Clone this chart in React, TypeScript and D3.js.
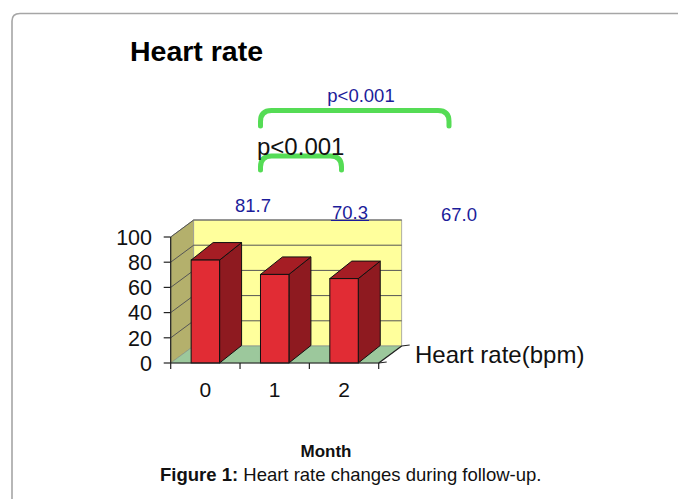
import React, { useEffect, useRef } from "react";
import * as d3 from "d3";

const months = ["0", "1", "2"];
const heartRate = [81.7, 70.3, 67.0];
const valueLabels = ["81.7", "70.3", "67.0"];
const yTicks = [0, 20, 40, 60, 80, 100];

const FONT = "'Liberation Sans', Arial, Helvetica, sans-serif";

const App: React.FC = () => {
  const svgRef = useRef<SVGSVGElement | null>(null);

  useEffect(() => {
    const svg = d3.select(svgRef.current);
    svg.selectAll("*").remove();

    const width = 678;
    const height = 499;
    svg.attr("width", width).attr("height", height);

    // frame of the figure box
    svg
      .append("path")
      .attr("d", `M12,${height + 5} V21 Q12,13.5 20,13.5 H${width + 5}`)
      .attr("fill", "none")
      .attr("stroke", "#a6a6a6")
      .attr("stroke-width", 1.6);

    // title
    svg
      .append("text")
      .attr("x", 130)
      .attr("y", 61)
      .attr("font-family", FONT)
      .attr("font-weight", "bold")
      .attr("font-size", 28.5)
      .text("Heart rate");

    const x0 = 170.7;
    const x1 = 378.7;
    const dx = 23;
    const dy = -17;

    const xScale = d3.scaleBand<string>().domain(months).range([x0, x1]).padding(0);
    const yScale = d3.scaleLinear().domain([0, 100]).range([363, 237]);
    const y0 = yScale(0);
    const yTop = yScale(100);

    const g = svg.append("g");

    // left side wall
    g.append("path")
      .attr("d", `M${x0},${y0} L${x0},${yTop} L${x0 + dx},${yTop + dy} L${x0 + dx},${y0 + dy} Z`)
      .attr("fill", "#b4b06c")
      .attr("stroke", "#8a8a6a")
      .attr("stroke-width", 0.8);

    // back wall
    g.append("rect")
      .attr("x", x0 + dx)
      .attr("y", yTop + dy)
      .attr("width", x1 - x0)
      .attr("height", y0 - yTop)
      .attr("fill", "#ffff9c")
      .attr("stroke", "#9a9a9a")
      .attr("stroke-width", 0.8);

    // floor
    g.append("path")
      .attr("d", `M${x0},${y0} L${x1},${y0} L${x1 + dx},${y0 + dy} L${x0 + dx},${y0 + dy} Z`)
      .attr("fill", "#9cc89c")
      .attr("stroke", "#8a9a8a")
      .attr("stroke-width", 0.8);

    // grid lines
    yTicks.slice(1).forEach((t) => {
      const y = yScale(t);
      g.append("path")
        .attr("d", `M${x0},${y} L${x0 + dx},${y + dy} H${x1 + dx}`)
        .attr("fill", "none")
        .attr("stroke", "#555")
        .attr("stroke-width", 1);
    });

    // 3D bars
    const bw = xScale.bandwidth();
    const barW = bw * 0.41;
    const bars = g
      .selectAll("g.bar")
      .data(months.map((m, i) => ({ m, v: heartRate[i] })))
      .join("g")
      .attr("class", "bar");

    bars.each(function (d) {
      const sel = d3.select(this);
      const bx0 = xScale(d.m)! + (bw - barW) / 2;
      const bx1 = bx0 + barW;
      const yv = yScale(d.v);
      const dDx = 22;
      const dDy = -17.5;
      sel
        .append("path")
        .attr("d", `M${bx1},${yv} L${bx1 + dDx},${yv + dDy} L${bx1 + dDx},${y0 + dDy} L${bx1},${y0} Z`)
        .attr("fill", "#8e1a20")
        .attr("stroke", "#111")
        .attr("stroke-width", 1);
      sel
        .append("path")
        .attr("d", `M${bx0},${yv} L${bx0 + dDx},${yv + dDy} L${bx1 + dDx},${yv + dDy} L${bx1},${yv} Z`)
        .attr("fill", "#a51d24")
        .attr("stroke", "#111")
        .attr("stroke-width", 1);
      sel
        .append("rect")
        .attr("x", bx0)
        .attr("y", yv)
        .attr("width", barW)
        .attr("height", y0 - yv)
        .attr("fill", "#e12c34")
        .attr("stroke", "#111")
        .attr("stroke-width", 1);
    });

    // y axis
    const yAxis = g.append("g");
    yAxis
      .append("line")
      .attr("x1", x0)
      .attr("x2", x0)
      .attr("y1", y0)
      .attr("y2", yTop)
      .attr("stroke", "#222")
      .attr("stroke-width", 1.2);
    yTicks.forEach((t) => {
      yAxis
        .append("line")
        .attr("x1", x0 - 7)
        .attr("x2", x0)
        .attr("y1", yScale(t))
        .attr("y2", yScale(t))
        .attr("stroke", "#222")
        .attr("stroke-width", 1.2);
      yAxis
        .append("text")
        .attr("x", 152)
        .attr("y", yScale(t))
        .attr("dy", "0.36em")
        .attr("text-anchor", "end")
        .attr("font-family", FONT)
        .attr("font-size", 21.5)
        .attr("fill", "#111")
        .text(String(t));
    });

    // x axis
    const xAxis = g.append("g");
    xAxis
      .append("line")
      .attr("x1", x0)
      .attr("x2", x1)
      .attr("y1", y0)
      .attr("y2", y0)
      .attr("stroke", "#222")
      .attr("stroke-width", 1.2);
    const edges = months.map((m) => xScale(m)!).concat([x1]);
    edges.forEach((ex) => {
      xAxis
        .append("line")
        .attr("x1", ex)
        .attr("x2", ex)
        .attr("y1", y0)
        .attr("y2", y0 + 6)
        .attr("stroke", "#222")
        .attr("stroke-width", 1.2);
    });
    months.forEach((m) => {
      xAxis
        .append("text")
        .attr("x", xScale(m)! + bw / 2)
        .attr("y", 397)
        .attr("text-anchor", "middle")
        .attr("font-family", FONT)
        .attr("font-size", 21)
        .attr("fill", "#111")
        .text(m);
    });

    // depth axis with series name
    const zAxis = g.append("g");
    zAxis
      .append("path")
      .attr("d", `M${x1},${y0} L${x1 + dx},${y0 + dy}`)
      .attr("stroke", "#222")
      .attr("stroke-width", 1.2);
    [0, 1].forEach((k) => {
      const zx = x1 + dx * k;
      const zy = y0 + dy * k;
      zAxis
        .append("line")
        .attr("x1", zx)
        .attr("x2", zx + 8)
        .attr("y1", zy)
        .attr("y2", zy - 1)
        .attr("stroke", "#222")
        .attr("stroke-width", 1.2);
    });
    svg
      .append("text")
      .attr("x", 415)
      .attr("y", 363)
      .attr("font-family", FONT)
      .attr("font-size", 24)
      .attr("fill", "#111")
      .text("Heart rate(bpm)");

    // value labels (placed off the bars, as in the original)
    const labelPos = [
      { x: 253, y: 212 },
      { x: 350, y: 219 },
      { x: 459, y: 221 },
    ];
    valueLabels.forEach((lab, i) => {
      svg
        .append("text")
        .attr("x", labelPos[i].x)
        .attr("y", labelPos[i].y)
        .attr("text-anchor", "middle")
        .attr("font-family", FONT)
        .attr("font-size", 18.5)
        .attr("fill", "#1c1c9a")
        .text(lab);
    });
    svg
      .append("line")
      .attr("x1", 331)
      .attr("x2", 369)
      .attr("y1", 220.5)
      .attr("y2", 220.5)
      .attr("stroke", "#1c1c9a")
      .attr("stroke-width", 1.2);

    // significance brackets
    const bracket = (left: number, right: number, top: number, bottom: number) => {
      const r = 11;
      return `M${left},${bottom} V${top + r} Q${left},${top} ${left + r},${top} H${right - r} Q${right},${top} ${right},${top + r} V${bottom}`;
    };
    svg
      .append("path")
      .attr("d", bracket(260.5, 449, 110.5, 126))
      .attr("fill", "none")
      .attr("stroke", "#55dc55")
      .attr("stroke-width", 5)
      .attr("stroke-linecap", "round");
    svg
      .append("text")
      .attr("x", 361)
      .attr("y", 102)
      .attr("text-anchor", "middle")
      .attr("font-family", FONT)
      .attr("font-size", 18.5)
      .attr("fill", "#1c1c9a")
      .text("p<0.001");

    svg
      .append("path")
      .attr("d", bracket(260.5, 341.5, 156, 170))
      .attr("fill", "none")
      .attr("stroke", "#55dc55")
      .attr("stroke-width", 5)
      .attr("stroke-linecap", "round");
    svg
      .append("text")
      .attr("x", 257)
      .attr("y", 155)
      .attr("font-family", FONT)
      .attr("font-size", 24)
      .attr("fill", "#111")
      .text("p<0.001");

    // axis title and caption
    svg
      .append("text")
      .attr("x", 326)
      .attr("y", 456.5)
      .attr("text-anchor", "middle")
      .attr("font-family", FONT)
      .attr("font-weight", "bold")
      .attr("font-size", 17)
      .attr("fill", "#111")
      .text("Month");

    const caption = svg
      .append("text")
      .attr("x", 160)
      .attr("y", 481)
      .attr("font-family", FONT)
      .attr("font-size", 18.5)
      .attr("fill", "#111");
    caption.append("tspan").attr("font-weight", "bold").text("Figure 1:");
    caption.append("tspan").text(" Heart rate changes during follow-up.");
  }, []);

  return (
    <div style={{ position: "absolute", left: 0, top: 0, width: 678, height: 499, background: "#fff" }}>
      <svg ref={svgRef} style={{ display: "block" }}></svg>
    </div>
  );
};

export default App;
